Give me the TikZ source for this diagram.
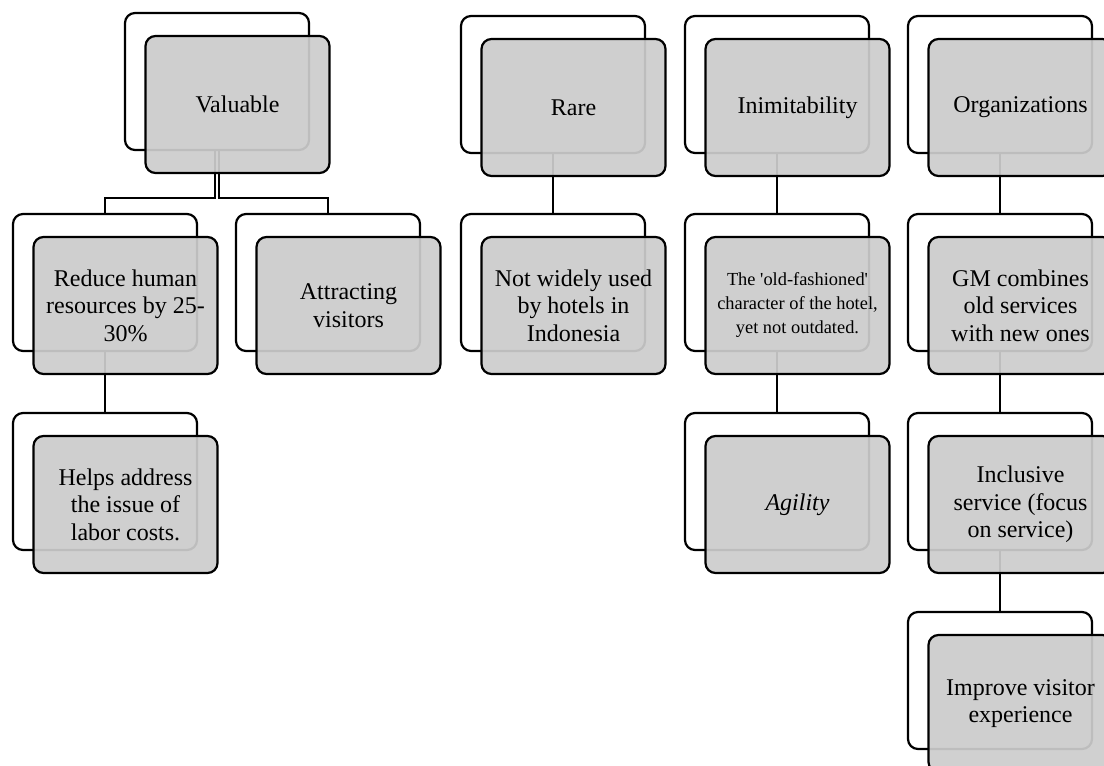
\documentclass[tikz,border=0pt]{standalone}
\usepackage{fontspec}
\newfontfamily\boxfont{Liberation Serif}
\begin{document}
\begin{tikzpicture}[x=0.5pt, y=-0.5pt,
    back/.style={draw, line width=1.1pt, rounded corners=5pt, fill=white,
      minimum width=92pt, minimum height=68.5pt, inner sep=0pt},
    front/.style={back, fill={rgb,255:red,204;green,204;blue,204}, fill opacity=0.93,
      text opacity=1, align=center, font=\boxfont\fontsize{12}{13.8}\selectfont},
    link/.style={line width=1.1pt}]
  \path[use as bounding box, clip] (0,0) rectangle (1104,766);
  % white boxes behind
  \node[back] (valB) at (217,81.5) {};
  \node[back] (redB) at (105,282.5) {};
  \node[back] (hlpB) at (105,481.5) {};
  \node[back] (attB) at (328,282.5) {};
  \node[back] (rareB) at (553,84.5) {};
  \node[back] (notB) at (553,282.5) {};
  \node[back] (inimB) at (777,84.5) {};
  \node[back] (oldB) at (777,282.5) {};
  \node[back] (agiB) at (777,481.5) {};
  \node[back] (orgB) at (1000,84.5) {};
  \node[back] (gmB) at (1000,282.5) {};
  \node[back] (incB) at (1000,481.5) {};
  \node[back] (impB) at (1000,680.5) {};
  % connectors
  \draw[link] ([xshift=-1pt]valB.south) -- ++(0,47) -| (redB.north);
  \draw[link] ([xshift=1pt]valB.south) -- ++(0,47) -| (attB.north);
  \draw[link] (redB.south) -- (hlpB.north);
  \draw[link] (rareB.south) -- (notB.north);
  \draw[link] (inimB.south) -- (oldB.north);
  \draw[link] (oldB.south) -- (agiB.north);
  \draw[link] (orgB.south) -- (gmB.north);
  \draw[link] (gmB.south) -- (incB.north);
  \draw[link] (incB.south) -- (impB.north);
  % grey boxes in front
  \node[front] (val) at ([xshift=10.25pt,yshift=-11.5pt]valB) {Valuable};
  \node[front] (red) at ([xshift=10.25pt,yshift=-11.5pt]redB) {Reduce human\\resources by 25-\\30\%};
  \node[front] (hlp) at ([xshift=10.25pt,yshift=-11.5pt]hlpB) {Helps address\\the issue of\\labor costs.};
  \node[front] (att) at ([xshift=10.25pt,yshift=-11.5pt]attB) {Attracting\\visitors};
  \node[front] (rare) at ([xshift=10.25pt,yshift=-11.5pt]rareB) {Rare};
  \node[front] (not) at ([xshift=10.25pt,yshift=-11.5pt]notB) {Not widely used\\by hotels in\\Indonesia};
  \node[front] (inim) at ([xshift=10.25pt,yshift=-11.5pt]inimB) {Inimitability};
  \node[front, font=\boxfont\fontsize{9.2}{12}\selectfont] (old) at ([xshift=10.25pt,yshift=-11.5pt]oldB) {The 'old-fashioned'\\character of the hotel,\\yet not outdated.};
  \node[front] (agi) at ([xshift=10.25pt,yshift=-11.5pt]agiB) {\textit{Agility}};
  \node[front] (org) at ([xshift=10.25pt,yshift=-11.5pt]orgB) {Organizations};
  \node[front] (gm) at ([xshift=10.25pt,yshift=-11.5pt]gmB) {GM combines\\old services\\with new ones};
  \node[front] (inc) at ([xshift=10.25pt,yshift=-11.5pt]incB) {Inclusive\\service (focus\\on service)};
  \node[front] (imp) at ([xshift=10.25pt,yshift=-11.5pt]impB) {Improve visitor\\experience};
\end{tikzpicture}
\end{document}
